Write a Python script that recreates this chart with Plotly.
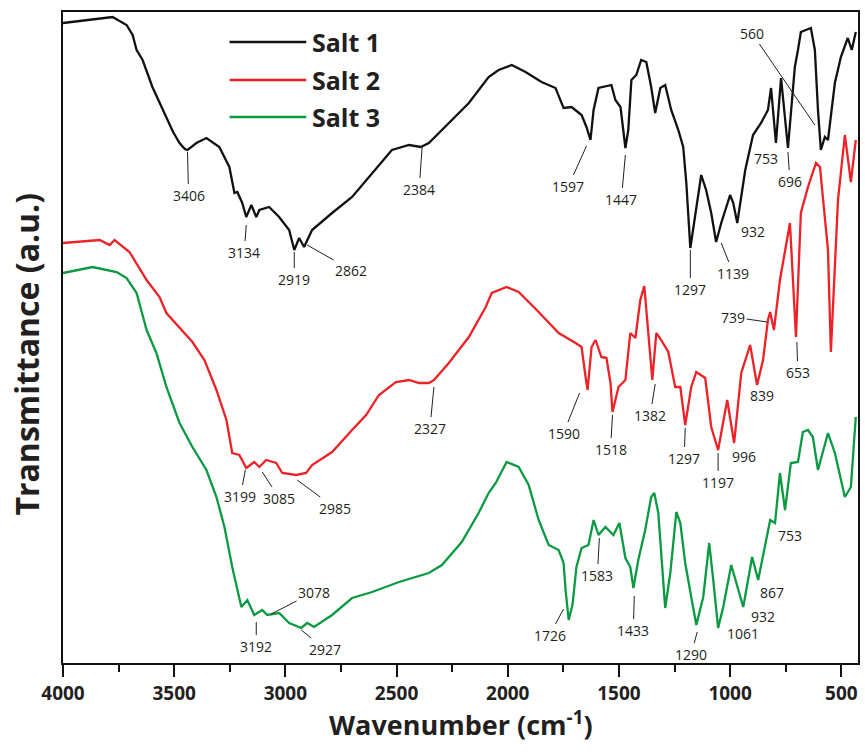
import plotly.graph_objects as go

# ---------------- data ----------------
salt1_wn = [4000, 3925, 3790, 3777, 3714, 3687, 3669, 3642, 3598, 3566, 3535, 3505, 3476,
            3452, 3440, 3400, 3355, 3297, 3252, 3229, 3216, 3194, 3176, 3153,
            3131, 3117, 3073, 3028, 2983, 2960, 2938, 2916, 2880, 2790,
            2700, 2610, 2521, 2444, 2391, 2355, 2265, 2175, 2086, 2041,
            1982, 1920, 1848, 1785, 1749, 1713, 1668, 1646, 1628, 1614,
            1592, 1534, 1516, 1493, 1471, 1458, 1444, 1422, 1400, 1377,
            1355, 1337, 1314, 1292, 1265, 1233, 1211, 1197, 1179, 1157,
            1130, 1108, 1085, 1063, 1040, 1000, 986, 968, 932, 897,
            861, 830, 816, 794, 771, 740, 709, 695, 682, 637,
            619, 605, 592, 574, 560, 529, 502, 471, 453, 435]
salt1_t = [640, 642, 645, 646, 638, 628, 613, 603, 576, 560, 546, 531, 520,
           514, 513, 520, 525, 516, 496, 470, 471, 460, 446, 458,
           446, 453, 456, 446, 433, 413, 425, 416, 433, 450,
           466, 490, 513, 518, 516, 520, 540, 560, 586, 593,
           598, 591, 581, 575, 555, 556, 548, 536, 523, 553,
           575, 578, 563, 556, 515, 533, 583, 588, 603, 601,
           576, 550, 575, 578, 553, 533, 516, 480, 415, 450,
           488, 473, 450, 421, 440, 468, 460, 440, 493, 528,
           540, 553, 575, 520, 585, 515, 596, 613, 631, 635,
           613, 553, 513, 526, 523, 580, 606, 625, 613, 631]

salt2_wn = [4000, 3835, 3790, 3768, 3701, 3624, 3566, 3535, 3418, 3364,
            3310, 3265, 3239, 3207, 3176, 3140, 3117, 3086, 3041, 3014,
            2951, 2907, 2880, 2790, 2700, 2637, 2579, 2503, 2444, 2399,
            2355, 2332, 2265, 2175, 2099, 2072, 2005, 1951, 1861, 1771,
            1695, 1668, 1650, 1641, 1623, 1605, 1579, 1556, 1538, 1529,
            1502, 1471, 1449, 1426, 1404, 1386, 1368, 1350, 1332, 1310,
            1278, 1247, 1224, 1202, 1175, 1152, 1112, 1085, 1054, 1031,
            1013, 982, 950, 910, 879, 852, 830, 820, 803, 776,
            731, 704, 682, 650, 614, 596, 560, 547, 515, 484,
            457, 435]
salt2_t = [420, 423, 418, 423, 411, 383, 366, 350, 321, 303,
           273, 243, 210, 208, 195, 201, 196, 203, 200, 190,
           188, 190, 198, 211, 233, 248, 268, 281, 283, 280,
           280, 283, 300, 326, 356, 370, 376, 371, 351, 330,
           320, 316, 286, 273, 316, 323, 306, 305, 280, 251,
           276, 283, 330, 325, 363, 377, 330, 283, 330, 323,
           311, 276, 276, 238, 276, 291, 285, 236, 213, 240,
           263, 220, 290, 318, 278, 303, 343, 351, 333, 383,
           440, 326, 450, 476, 500, 496, 413, 311, 463, 528,
           481, 523]

salt3_wn = [4000, 3867, 3759, 3714, 3669, 3656, 3624, 3580, 3535, 3476,
            3418, 3355, 3310, 3274, 3265, 3239, 3198, 3171, 3140, 3104,
            3082, 3028, 2983, 2929, 2902, 2871, 2790, 2700, 2610, 2489,
            2355, 2296, 2207, 2131, 2086, 2054, 2005, 1951, 1906, 1861,
            1816, 1771, 1749, 1740, 1726, 1709, 1691, 1668, 1637, 1614,
            1592, 1561, 1525, 1498, 1471, 1449, 1435, 1413, 1382, 1355,
            1341, 1323, 1310, 1292, 1269, 1242, 1224, 1202, 1175, 1152,
            1121, 1094, 1076, 1054, 1031, 995, 941, 901, 874, 820,
            798, 776, 753, 727, 695, 673, 650, 628, 605, 560,
            529, 484, 457, 435]
salt3_t = [390, 396, 391, 385, 370, 360, 333, 310, 276, 240,
           216, 193, 166, 136, 126, 96, 56, 63, 48, 53,
           48, 50, 40, 35, 40, 36, 48, 65, 71, 81,
           90, 98, 121, 150, 170, 180, 201, 196, 178, 143,
           118, 113, 100, 73, 43, 58, 96, 115, 118, 143,
           128, 136, 128, 140, 105, 96, 75, 103, 133, 166,
           170, 150, 110, 55, 90, 151, 140, 100, 66, 38,
           66, 120, 83, 35, 56, 98, 56, 106, 83, 143,
           140, 190, 153, 200, 201, 231, 233, 226, 193, 230,
           210, 166, 176, 246]

series_names = ["Salt 1", "Salt 2", "Salt 3"]
series_colors = ["#111111", "#ec2227", "#0a9a42"]

# peak labels: text, wavenumber, transmittance, label offset (px) or None
peak_text = ["3406", "3134", "2919", "2862", "2384", "1597", "1447", "1297", "1139",
             "932", "753", "696", "560",
             "3199", "3085", "2985", "2327", "1590", "1518", "1382", "1297", "1197",
             "996", "839", "739", "653",
             "3192", "3078", "2927", "1726", "1583", "1433", "1290",
             "1061", "932", "867", "753"]
peak_wn = [3440, 3176, 2960, 2902, 2385, 1646, 1471, 1179, 1040,
           897, 838, 740, 619,
           3180, 3104, 2947, 2332, 1677, 1529, 1337, 1202, 1054,
           937, 856, 834, 700,
           3131, 3064, 2929, 1749, 1588, 1431, 1148,
           941, 852, 811, 731]
peak_t = [511, 438, 411, 418, 516, 517, 508, 413, 420,
          432, 505, 511, 538,
          193, 191, 183, 276, 270, 248, 279, 235, 210,
          207, 268, 341, 321,
          41, 49, 33, 54, 125, 67, 31,
          30, 47, 71, 128]
peak_ax = [1, -2, 0, 44, -3, -18, -4, 0, 12,
           None, None, 2, -63,
           -5, 17, 38, -4, -16, -2, -5, -1, 0,
           None, None, -34, 1,
           0, 43, 24, -14, -2, -1, -6,
           None, None, None, None]
peak_ay = [43, 27, 27, 25, 42, 40, 44, 39, 30,
           None, None, 29, -92,
           26, 26, 28, 41, 40, 34, 31, 30, 29,
           None, None, -5, 30,
           24, -22, 19, 26, 37, 34, 22,
           None, None, None, None]

x_ticks = [4000, 3500, 3000, 2500, 2000, 1500, 1000, 500]
x_range = [4000, 425]
y_range = [0, 651]

FONT = "Open Sans, Noto Sans, DejaVu Sans, sans-serif"
TXT = "#231f20"

fig = go.Figure()
for wn, t, name, col in zip([salt1_wn, salt2_wn, salt3_wn],
                            [salt1_t, salt2_t, salt3_t],
                            series_names, series_colors):
    fig.add_trace(go.Scatter(x=wn, y=t, mode="lines", name=name,
                             line=dict(color=col, width=2.3),
                             showlegend=False))

annotations = []
for txt, x, y, ax, ay in zip(peak_text, peak_wn, peak_t, peak_ax, peak_ay):
    if ax is None:
        annotations.append(dict(x=x, y=y, text=txt, showarrow=False,
                                font=dict(family=FONT, size=14, color=TXT)))
    else:
        annotations.append(dict(x=x, y=y, text=txt, showarrow=True,
                                arrowhead=0, arrowwidth=1, arrowcolor=TXT,
                                ax=ax, ay=ay, standoff=0, borderpad=1,
                                font=dict(family=FONT, size=14, color=TXT)))

# custom legend (long line samples)
legend_y = [0.954, 0.8955, 0.8387]
shapes = []
for name, col, ly in zip(series_names, series_colors, legend_y):
    shapes.append(dict(type="line", xref="paper", yref="paper",
                       x0=0.2095, x1=0.306, y0=ly, y1=ly,
                       line=dict(color=col, width=2.5)))
    annotations.append(dict(xref="paper", yref="paper", x=0.311, y=ly,
                            xanchor="left", yanchor="middle", text="<b>%s</b>" % name,
                            showarrow=False, font=dict(family=FONT, size=25, color=TXT)))

# axis titles
annotations.append(dict(xref="paper", yref="paper", x=0.5, y=-0.093,
                        xanchor="center", yanchor="middle",
                        text="<b>Wavenumber (cm<sup>-1</sup>)</b>", showarrow=False,
                        font=dict(family=FONT, size=27, color=TXT)))
annotations.append(dict(xref="paper", yref="paper", x=-0.0464, y=0.474,
                        xanchor="center", yanchor="middle", textangle=-90,
                        text="<b>Transmittance (a.u.)</b>", showarrow=False,
                        font=dict(family=FONT, size=32, color=TXT)))

fig.update_layout(
    width=865, height=755,
    margin=dict(l=63, r=5, t=12, b=92),
    paper_bgcolor="white", plot_bgcolor="white",
    annotations=annotations, shapes=shapes,
    xaxis=dict(range=x_range, tickvals=x_ticks,
               ticks="outside", ticklen=12, tickwidth=2, tickcolor="#111",
               minor=dict(dtick=250, tick0=250, ticks="outside", ticklen=7,
                          tickwidth=2, tickcolor="#111"),
               showline=True, linecolor="#111", linewidth=2, mirror=True,
               showgrid=False, zeroline=False,
               tickfont=dict(family=FONT, size=19, color=TXT, weight="bold")),
    yaxis=dict(range=y_range, showticklabels=False, ticks="",
               showline=True, linecolor="#111", linewidth=2, mirror=True,
               showgrid=False, zeroline=False),
)

fig.write_html("out.html")
